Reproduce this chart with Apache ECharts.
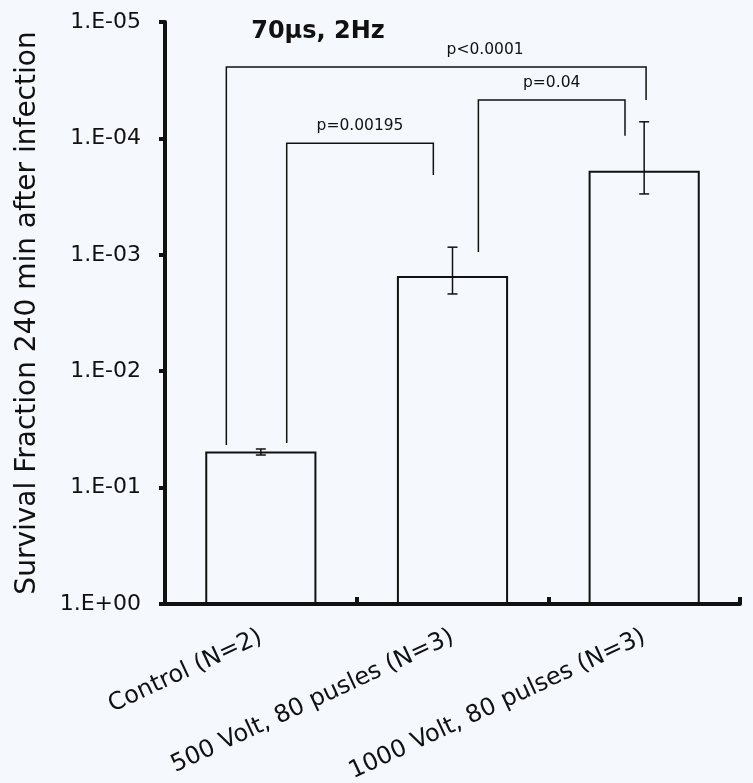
<!DOCTYPE html>
<html><head><meta charset="utf-8">
<script src="https://cdn.jsdelivr.net/npm/echarts@6/dist/echarts.min.js"></script>
<style>html,body{margin:0;padding:0;background:#f5f8fc}#c{width:753px;height:783px}</style>
</head><body><div id="c"></div>
<script>
// ---- data ----
const categories = ['Control (N=2)', '500 Volt, 80 pusles (N=3)', '1000 Volt, 80 pulses (N=3)'];
const survival = [0.049, 0.00152, 0.00019];
const errTop = [0.0466, 0.00086, 0.000072];
const errBottom = [0.0525, 0.00217, 0.0003];
const yTickLabels = ['1.E+00', '1.E-01', '1.E-02', '1.E-03', '1.E-04', '1.E-05'];
const bracketLabels = ['p<0.0001', 'p=0.00195', 'p=0.04'];
const bracketFrom = [0, 0, 1];
const bracketTo = [2, 1, 2];
const bracketLevel = [2.44e-5, 1.1e-4, 4.68e-5];
const bracketLeftEnd = [0.043, 0.0414, 9.46e-4];
const bracketRightEnd = [4.68e-5, 2.06e-4, 9.5e-5];

// ---- layout (fractions of a category band) ----
const bracketLayout = {
  leftShift: [-0.18, 0.135, 0.135],
  rightShift: [0.01, -0.10, -0.10],
  labelShift: [0.255, 0, 0]
};

const FONT = '"DejaVu Sans", Verdana, sans-serif';
const INK = '#111';

const errData = survival.map((v, i) => [i, v, errTop[i], errBottom[i]]);
const bracketData = bracketLabels.map((l, i) => [bracketFrom[i], bracketTo[i], bracketLevel[i], bracketLeftEnd[i], bracketRightEnd[i], i]);

const chart = echarts.init(document.getElementById('c'), null, { renderer: 'canvas' });
chart.setOption({
  backgroundColor: '#f5f8fc',
  animation: false,
  title: {
    text: '70μs, 2Hz', left: 313, top: 15, textAlign: 'center',
    textStyle: { fontFamily: FONT, fontSize: 24, fontWeight: 'bold', color: INK }
  },
  grid: { left: 165, right: 13, top: 22, bottom: 179, containLabel: false, outerBoundsMode: 'none' },
  xAxis: {
    type: 'category', data: categories, position: 'bottom',
    axisLine: { onZero: false, lineStyle: { color: INK, width: 4 } },
    axisTick: { show: true, inside: true, length: 7, lineStyle: { color: INK, width: 4 } },
    axisLabel: { rotate: 25, margin: 32, fontFamily: FONT, fontSize: 24, color: INK, interval: 0 }
  },
  yAxis: {
    type: 'log', logBase: 10, min: 1e-5, max: 1, inverse: true, splitNumber: 5,
    name: 'Survival Fraction 240 min after infection', nameLocation: 'middle', nameGap: 123,
    nameTextStyle: { fontFamily: FONT, fontSize: 28, color: INK },
    axisLine: { show: true, lineStyle: { color: INK, width: 4 } },
    axisTick: { show: true, length: 6, lineStyle: { color: INK, width: 4 } },
    splitLine: { show: false },
    axisLabel: {
      fontFamily: FONT, fontSize: 22, color: INK, margin: 24,
      formatter: v => yTickLabels[Math.round(-Math.log10(v))]
    }
  },
  series: [
    {
      type: 'bar', data: survival, barWidth: '58%',
      itemStyle: { color: 'rgba(0,0,0,0)', borderColor: INK, borderWidth: 2 }
    },
    {
      type: 'custom', data: errData, encode: { x: 0, y: 1 }, z: 5,
      renderItem: (params, api) => {
        const x = api.value(0);
        const pTop = api.coord([x, api.value(2)]);
        const pBot = api.coord([x, api.value(3)]);
        const w = 5;
        const st = { stroke: INK, lineWidth: 1.5 };
        return { type: 'group', children: [
          { type: 'line', shape: { x1: pTop[0], y1: pTop[1], x2: pBot[0], y2: pBot[1] }, style: st },
          { type: 'line', shape: { x1: pTop[0] - w, y1: pTop[1], x2: pTop[0] + w, y2: pTop[1] }, style: st },
          { type: 'line', shape: { x1: pBot[0] - w, y1: pBot[1], x2: pBot[0] + w, y2: pBot[1] }, style: st }
        ] };
      }
    },
    {
      type: 'custom', data: bracketData, encode: { x: 0, y: 2 }, z: 6,
      renderItem: (params, api) => {
        const i = api.value(5);
        const band = api.size([1, 1e-3])[0];
        const a = api.coord([api.value(0), api.value(2)]);
        const b = api.coord([api.value(1), api.value(2)]);
        const xl = a[0] + bracketLayout.leftShift[i] * band;
        const xr = b[0] + bracketLayout.rightShift[i] * band;
        const yl = api.coord([api.value(0), api.value(3)])[1];
        const yr = api.coord([api.value(1), api.value(4)])[1];
        const yh = a[1];
        return { type: 'group', children: [
          { type: 'polyline', shape: { points: [[xl, yl], [xl, yh], [xr, yh], [xr, yr]] },
            style: { stroke: INK, lineWidth: 1.5, fill: null } },
          { type: 'text', style: { text: bracketLabels[i], x: (xl + xr) / 2 + bracketLayout.labelShift[i] * band, y: yh - 9,
            align: 'center', verticalAlign: 'bottom', font: '15.5px ' + FONT, fill: INK } }
        ] };
      }
    }
  ]
});
</script>
</body></html>
